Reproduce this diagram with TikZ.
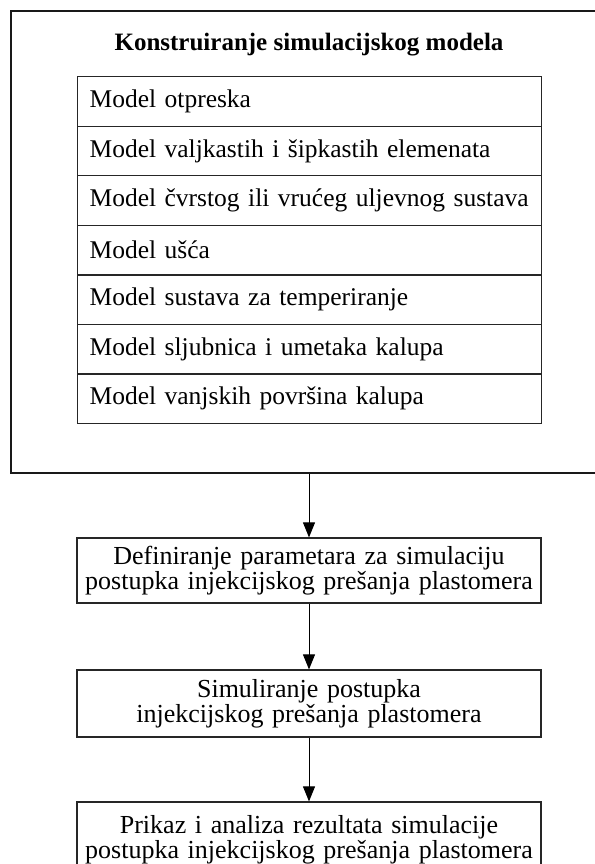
\documentclass[tikz,border=0pt]{standalone}
\usepackage{fontspec}
\setmainfont{Liberation Serif}
\usetikzlibrary{arrows.meta}
\newcommand{\rowtext}[1]{\makebox[440pt][l]{#1}}
\begin{document}
\begin{tikzpicture}[x=1pt,y=-1pt,
 rowbox/.style={draw=black!85, line width=1.2pt, minimum width=464pt, minimum height=49.6pt, text width=440pt, inner xsep=12pt, inner ysep=0pt, align=left, anchor=north west, font=\fontsize{25.5}{26}\selectfont},
 stepbox/.style={draw=black!85, line width=1.2pt, minimum width=464pt, text width=460pt, inner sep=0pt, align=center, font=\fontsize{26}{22}\selectfont},
 flow/.style={line width=1pt, -{Triangle[width=12pt,length=15pt]}}]
\useasboundingbox (0,0) rectangle (594,864);
\node[draw=black!90, line width=2.4pt, anchor=north west, minimum width=640pt, minimum height=462pt] (outer) at (10,10) {};
\node[font=\bfseries\fontsize{25}{25}\selectfont] (title) at (309,45) {Konstruiranje simulacijskog modela};
\node[rowbox] (r1) at (77,76) {\rowtext{Model otpreska}};
\node[rowbox] (r2) at (77,125.6) {\rowtext{Model valjkastih i šipkastih elemenata}};
\node[rowbox] (r3) at (77,175.1) {\rowtext{Model čvrstog ili vrućeg uljevnog sustava}};
\node[rowbox] (r4) at (77,224.7) {\rowtext{Model ušća}};
\node[rowbox] (r5) at (77,274.3) {\rowtext{Model sustava za temperiranje}};
\node[rowbox] (r6) at (77,323.9) {\rowtext{Model sljubnica i umetaka kalupa}};
\node[rowbox] (r7) at (77,373.4) {\rowtext{Model vanjskih površina kalupa}};
\node[stepbox, minimum height=65pt] (def) at (309,570.5) {Definiranje parametara za simulaciju\\postupka injekcijskog prešanja plastomera};
\node[stepbox, minimum height=67pt] (sim) at (309,703.5) {Simuliranje postupka\\injekcijskog prešanja plastomera};
\node[stepbox, minimum height=76pt] (pri) at (309,840) {Prikaz i analiza rezultata simulacije\\postupka injekcijskog prešanja plastomera};
\draw[flow] (def.north |- outer.south) -- (def.north);
\draw[flow] (sim.north |- def.south) -- (sim.north);
\draw[flow] (pri.north |- sim.south) -- (pri.north);
\end{tikzpicture}
\end{document}
